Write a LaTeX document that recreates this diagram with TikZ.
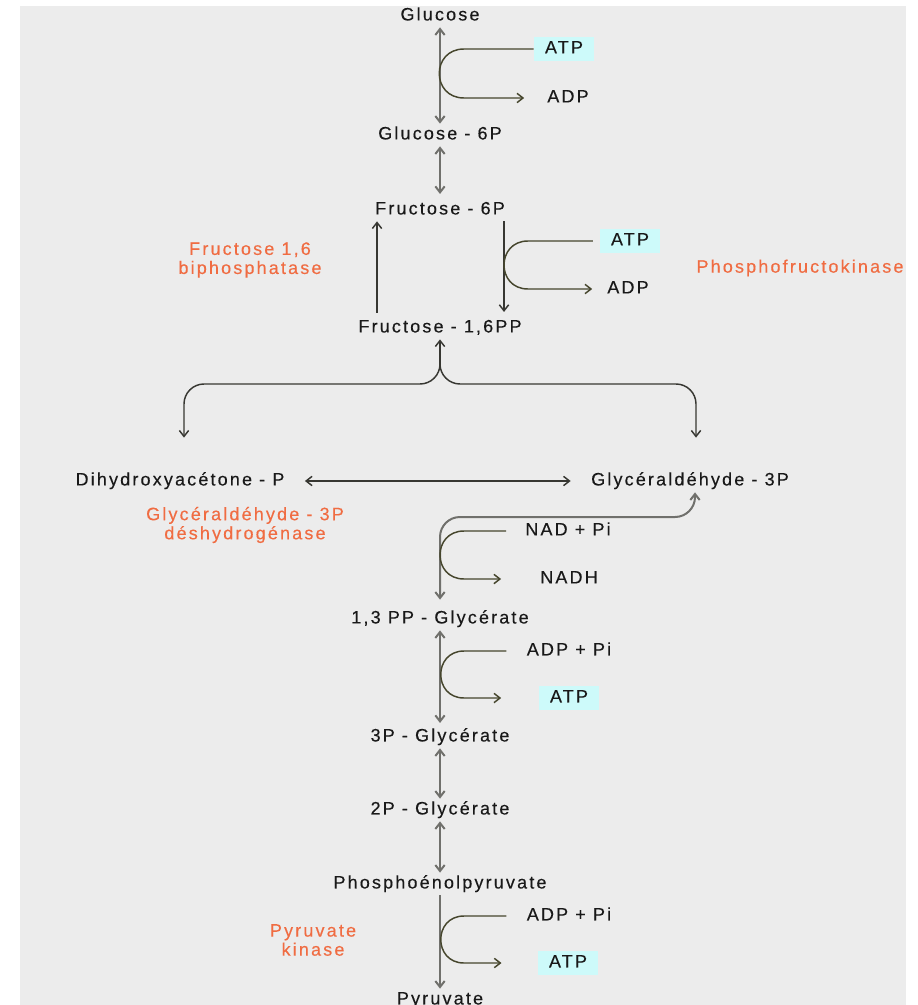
\documentclass[tikz,border=0pt]{standalone}
\usepackage{fontspec}
\setmainfont{Liberation Sans}[LetterSpace=12, FakeBold=0.3]
\usetikzlibrary{arrows.meta}

\tikzset{every picture/.style={line width=0.75pt}}
\tikzset{
  txt/.style={inner sep=2pt, text height=9.5pt, text depth=2.8pt, text={rgb, 255:red, 25; green, 25; blue, 25 }, font=\fontsize{13.5}{14.3}\selectfont},
  enz/.style={inner sep=2pt, align=center, text={rgb, 255:red, 240; green, 108; blue, 66 }, font=\fontsize{13.5}{14.3}\selectfont},
  cofbox/.style={txt, fill={rgb, 255:red, 205; green, 250; blue, 250 }, minimum width=45pt, minimum height=18pt},
  mainarrow/.style={draw={rgb, 255:red, 112; green, 112; blue, 108 }, line width=1.5pt, {Straight Barb[length=4.5pt,width=7pt]}-{Straight Barb[length=4.5pt,width=7pt]}},
  mainto/.style={mainarrow, -{Straight Barb[length=4.5pt,width=7pt]}},
  plainarrow/.style={draw={rgb, 255:red, 55; green, 55; blue, 50 }, line width=1.1pt, -{Straight Barb[length=4.5pt,width=7pt]}},
  plaindouble/.style={plainarrow, {Straight Barb[length=4.5pt,width=7pt]}-{Straight Barb[length=4.5pt,width=7pt]}},
  sidearc/.style={draw={rgb, 255:red, 70; green, 70; blue, 45 }, line width=1.1pt, -{Straight Barb[length=4.5pt,width=7pt]}}
}

\begin{document}
\begin{tikzpicture}[x=0.75pt,y=0.75pt,yscale=-1,xscale=1]
\useasboundingbox (0,0) rectangle (917,1005);

%Shape: Rectangle [background]
\fill [fill={rgb, 255:red, 236; green, 236; blue, 236 }] (20,6) rectangle (906,1005);

% Text Node
\node [txt] (glc) at (440,16) {Glucose};
\node [cofbox] (atp1) at (564,49) {ATP};
\node [txt] (adp1) at (568,98) {ADP};
\node [txt] (g6p) at (440,135) {Glucose - 6P};
\node [txt] (f6p) at (440,210) {Fructose - 6P};
\node [cofbox] (atp2) at (630,241) {ATP};
\node [txt] (adp2) at (628,289) {ADP};
\node [enz] (pfk) at (800,268) {Phosphofructokinase};
\node [enz] (fbp) at (250,260) {Fructose 1,6\\biphosphatase};
\node [txt] (f16) at (440,328) {Fructose - 1,6PP};
\node [txt] (dhap) at (180,481) {Dihydroxyacétone - P};
\node [txt] (g3p) at (690,481) {Glycéraldéhyde - 3P};
\node [enz] (gapdh) at (245,525) {Glycéraldéhyde - 3P\\déshydrogénase};
\node [txt] (nad) at (568,531) {NAD + Pi};
\node [txt] (nadh) at (569,579) {NADH};
\node [txt] (bpg) at (440,619) {1,3 PP - Glycérate};
\node [txt] (adppi1) at (569,651) {ADP + Pi};
\node [cofbox] (atp3) at (569,698) {ATP};
\node [txt] (pg3) at (440,737) {3P - Glycérate};
\node [txt] (pg2) at (440,810) {2P - Glycérate};
\node [txt] (pep) at (440,884) {Phosphoénolpyruvate};
\node [txt] (adppi2) at (569,916) {ADP + Pi};
\node [cofbox] (atp4) at (568,963) {ATP};
\node [enz] (pk) at (313,940) {Pyruvate\\kinase};
\node [txt] (pyr) at (440,1000) {Pyruvate};

%Coordinates for bends
\coordinate (bendA) at (464,0);
\coordinate (bendB) at (528,0);
\coordinate (fbpx) at (377,0);
\coordinate (pfkx) at (504,0);
\coordinate (split) at (440,364);
\coordinate (bl) at (184,384);
\coordinate (br) at (696,384);
\coordinate (g3pin) at (695,517);

%Straight Lines
\draw [mainarrow] (glc.south) -- (g6p.north);
\draw [mainarrow, shorten >=3.5pt] (g6p.south) -- (f6p.north);
\draw [plainarrow, shorten <=3pt] (f16.north -| fbpx) -- (f6p.south -| fbpx);
\draw [plainarrow, shorten >=3.5pt] (f6p.south -| pfkx) -- (f16.north -| pfkx);
\draw [plainarrow] (split) -- (f16.south);
\draw [plainarrow, rounded corners=15pt, shorten >=24pt] (split) |- (bl) -- (dhap.north -| bl);
\draw [plainarrow, rounded corners=15pt, shorten >=24pt] (split) |- (br) -- (g3p.north -| br);
\draw [plaindouble, shorten <=13pt, shorten >=13pt] (dhap.east) -- (g3p.west);
\draw [mainarrow, rounded corners=15pt, shorten >=6pt] (g3p.south -| g3pin) -- (g3pin) -| (bpg.north);
\draw [mainarrow, shorten >=2pt] (bpg.south) -- (pg3.north);
\draw [mainarrow] (pg3.south) -- (pg2.north);
\draw [mainarrow] (pg2.south) -- (pep.north);
\draw [mainto] (pep.south) -- (pyr.north);

%Curve Lines
\draw [sidearc, shorten >=15pt] (atp1.west) -- (atp1.west -| bendA) .. controls +(-33,0) and +(-33,0) .. (adp1.west -| bendA) -- (adp1.west);
\draw [sidearc, shorten <=5pt, shorten >=9pt] (atp2.west) -- (atp2.west -| bendB) .. controls +(-32,0) and +(-32,0) .. (adp2.west -| bendB) -- (adp2.west);
\draw [sidearc, shorten <=12pt, shorten >=27pt] (nad.west) -- (nad.west -| bendA) .. controls +(-32,0) and +(-32,0) .. (nadh.west -| bendA) -- (nadh.west);
\draw [sidearc, shorten <=13pt, shorten >=28pt] (adppi1.west) -- (adppi1.west -| bendA) .. controls +(-31,0) and +(-31,0) .. (atp3.west -| bendA) -- (atp3.west);
\draw [sidearc, shorten <=13pt, shorten >=27pt] (adppi2.west) -- (adppi2.west -| bendA) .. controls +(-31,0) and +(-31,0) .. (atp4.west -| bendA) -- (atp4.west);

\end{tikzpicture}
\end{document}
